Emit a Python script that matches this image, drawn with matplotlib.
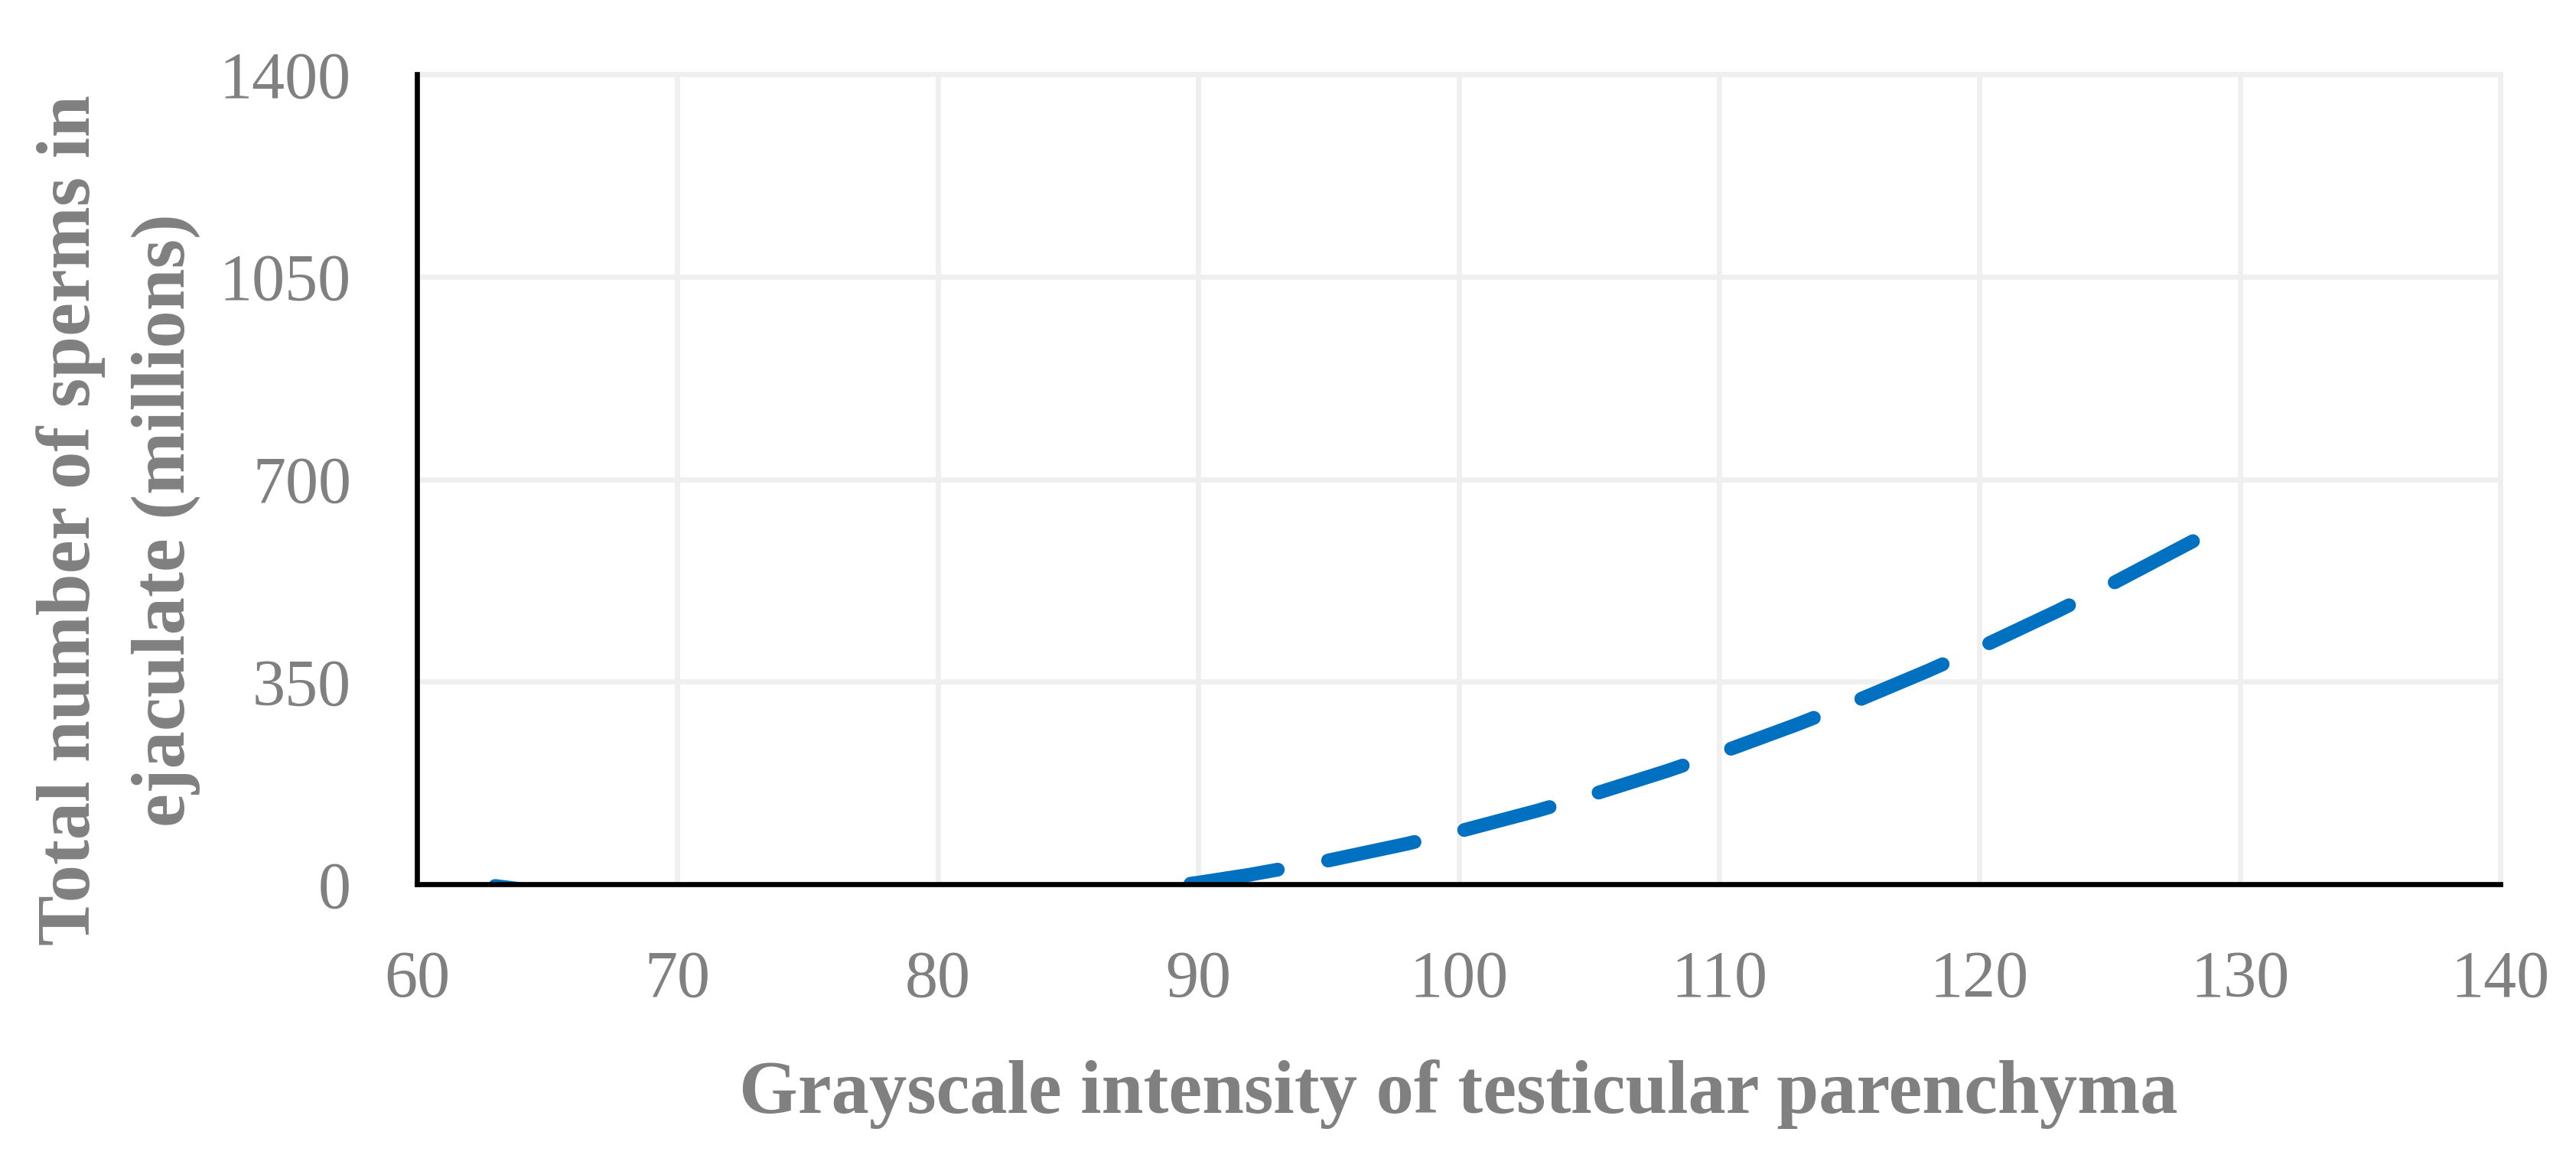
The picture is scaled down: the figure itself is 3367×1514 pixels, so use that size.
import matplotlib
matplotlib.use('Agg')
import matplotlib.pyplot as plt

# Polynomial trend line (grayscale intensity vs. total sperm count)
x_vals = [63, 65, 70, 75, 80, 85, 88, 90, 92, 95, 98, 100, 103, 105, 108,
          110, 113, 115, 118, 120, 123, 125, 128.5]
y_vals = [-3.1, -14.4, -34.4, -42.7, -39.3, -24.2, -9.5, 2.6, 16.5, 41.0, 69.7,
          91.1, 126.8, 153.0, 195.7, 226.5, 276.2, 311.6, 368.4, 408.5, 472.2,
          517.1, 600.0]

x_ticks = [60, 70, 80, 90, 100, 110, 120, 130, 140]
y_ticks = [0, 350, 700, 1050, 1400]
x_label = "Grayscale intensity of testicular parenchyma"
y_label_lines = ["Total number of sperms in", "ejaculate (millions)"]

plt.rcParams['font.family'] = ['Liberation Serif', 'DejaVu Serif']

W, H = 3367, 1514
fig = plt.figure(figsize=(W / 100, H / 100), dpi=100)
left, right, top, bottom = 545, 3268, 97, 1156
ax = fig.add_axes([left / W, 1 - bottom / H, (right - left) / W, (bottom - top) / H])

ax.plot(x_vals, y_vals, color='#0070C0', lw=13, ls=(0, (6.4, 3.7)),
        dash_capstyle='round', solid_capstyle='round', zorder=2)

ax.set_xlim(60, 140)
ax.set_ylim(0, 1400)
ax.set_xticks(x_ticks)
ax.set_yticks(y_ticks)
ax.grid(True, color='#EFEFEF', lw=4.8)
ax.set_axisbelow(True)
for gl in ax.get_xgridlines() + ax.get_ygridlines():
    gl.set_clip_on(False)

for s in ['top', 'right']:
    ax.spines[s].set_visible(False)
for s in ['left', 'bottom']:
    ax.spines[s].set_linewidth(4.8)
    ax.spines[s].set_color('black')
    ax.spines[s].set_zorder(3)

ax.tick_params(length=0, labelsize=62, labelcolor='#808080')
ax.tick_params(axis='x', pad=62)
ax.tick_params(axis='y', pad=62)

fig.text(1906 / W, 1 - 1455 / H, x_label, ha='center', va='baseline',
         fontsize=71, fontweight='bold', color='#808080')

for xb, txt in zip([117, 241], y_label_lines):
    fig.text(xb / W, 1 - 680 / H, txt, rotation=90, rotation_mode='anchor',
             ha='center', va='baseline', fontsize=71, fontweight='bold',
             color='#808080')

fig.savefig('out.png', dpi=100)
